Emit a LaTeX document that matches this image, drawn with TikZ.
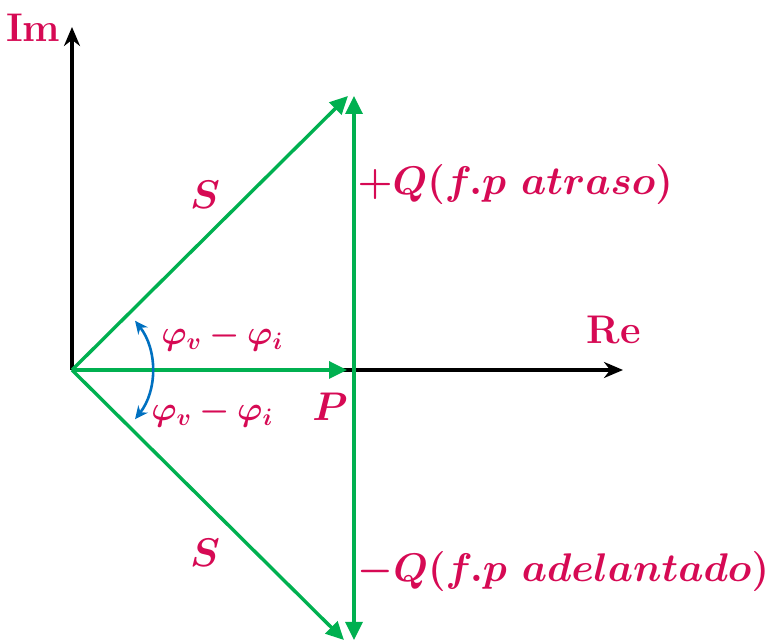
\RequirePackage{fix-cm}
\documentclass[tikz,border=0pt]{standalone}
\usepackage{amsmath}
\usepackage{bm}
\usepackage{xcolor}
\usepackage{tikz}
\usetikzlibrary{positioning,arrows.meta}

\definecolor{lblred}{RGB}{214,10,84}
\definecolor{vecgreen}{RGB}{0,176,80}
\definecolor{arcblue}{RGB}{0,112,192}

\tikzset{
  axis/.style={line width=3.4pt, -{Stealth[length=19pt, width=16pt]}},
  phasor/.style={vecgreen, line width=3.4pt, -{Triangle[length=18pt, width=17pt]}},
  lbl/.style={lblred, font=\fontsize{40}{46}\selectfont\bfseries},
  anglbl/.style={lbl, font=\fontsize{34}{40}\selectfont\bfseries},
  angarc/.style={arcblue, line width=2.6pt, {Stealth[length=13pt, width=12pt]}-{Stealth[length=13pt, width=12pt]}}
}

\begin{document}
\begin{tikzpicture}[x=1pt, y=1pt]
\useasboundingbox (0,0) rectangle (772,642);
% points
\coordinate (O) at (72,272);
\coordinate (ImTip) at (72,615);
\coordinate (ReTip) at (623,272);
\coordinate (Ptip) at (347,272);
\coordinate (Qbase) at (354,272);
\coordinate (Qup) at (354,546);
\coordinate (Qdown) at (354,2);
\coordinate (Sup) at (348,546);
\coordinate (Sdown) at (344,2);
% axes
\draw[axis] (O) -- (ImTip);
\draw[axis] (O) -- (ReTip);
\node[lbl, anchor=east] (im) at (64,614) {Im};
\node[lbl] (re) at (614,312) {Re};
% phasors
\draw[phasor] (O) -- (Sup);
\draw[phasor] (O) -- (Sdown);
\draw[phasor] (Qbase) -- (Qup);
\draw[phasor] (Qbase) -- (Qdown);
\draw[phasor] (O) -- (Ptip);
% angle
\draw[angarc] ([shift={(38:80)}]O) arc[start angle=38, end angle=-38, radius=80];
% labels
\node[lbl] (sa) at (205,447) {$\bm{S}$};
\node[lbl] (sb) at (205,89) {$\bm{S}$};
\node[lbl] (p) at (330,235) {$\bm{P}$};
\node[anglbl] (phia) at (222,305) {$\bm{\varphi_v-\varphi_i}$};
\node[anglbl] (phib) at (212,229) {$\bm{\varphi_v-\varphi_i}$};
\node[lbl, anchor=west] (qa) at (354,457) {$\bm{+Q(f.p\ atraso)}$};
\node[lbl, anchor=west] (qb) at (354,70) {$\bm{-Q(f.p\ adelantado)}$};
\end{tikzpicture}
\end{document}
